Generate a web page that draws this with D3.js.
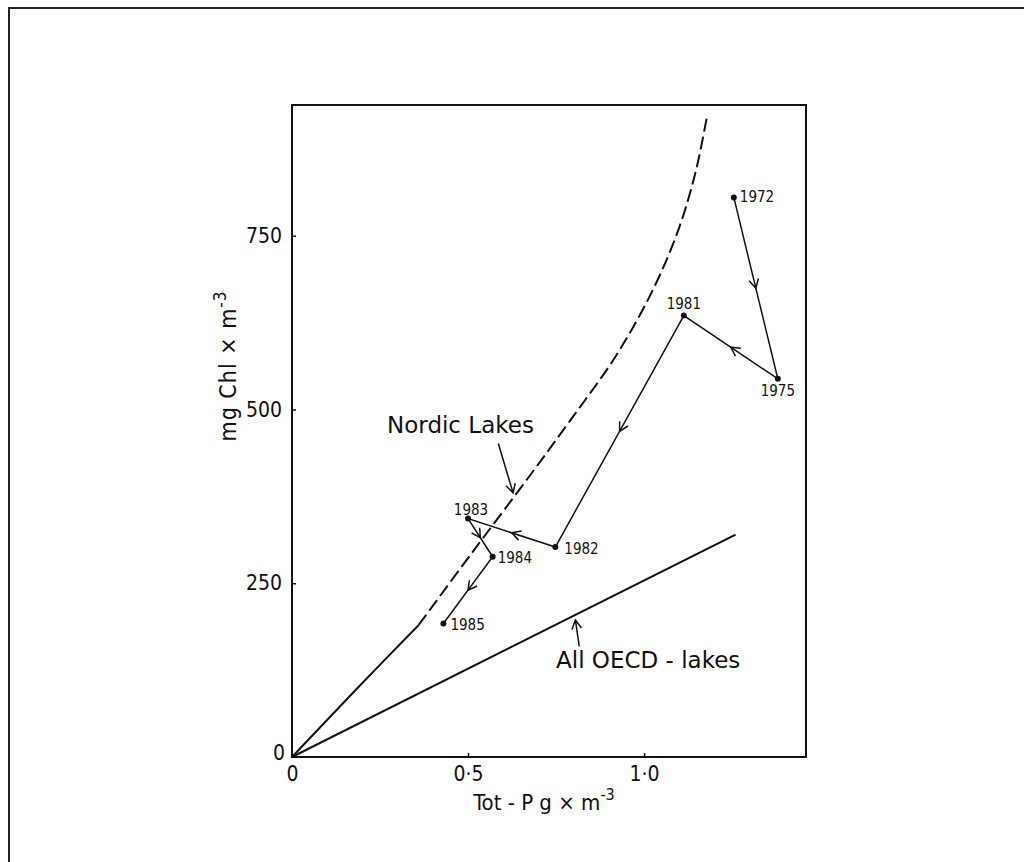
<!DOCTYPE html>
<html>
<head>
<meta charset="utf-8">
<script src="https://cdn.jsdelivr.net/npm/d3@7"></script>
<style>
  html, body { margin: 0; padding: 0; background: #fff; }
  svg { display: block; }
  .tick line { stroke: #111; stroke-width: 1.5; }
  .tick text { fill: #111; }
  .domain { display: none; }
</style>
</head>
<body>
<svg id="chart" width="1024" height="862"></svg>
<script>
// lake trajectory, tot-P (g/m3) vs chlorophyll (mg/m3)
const years  = ["1972", "1975", "1981", "1982", "1983", "1984", "1985"];
const totP   = [1.255, 1.38, 1.113, 0.748, 0.50, 0.57, 0.43];
const chl    = [805, 544, 635, 302, 343, 288, 192];

// Nordic lakes regression curve, solid part then dashed part
const nordicSolid  = [[0, 0], [0.18, 96], [0.36, 190]];
const nordicDashed = [[0.36, 190], [0.51, 293], [0.67, 401], [0.79, 484], [0.92, 577],
                      [1.025, 672], [1.10, 762], [1.148, 845], [1.18, 925]];
// all OECD lakes line
const oecdLine = [[0, 0], [1.26, 320]];

const xTicks = [0, 0.5, 1.0];
const xTickLabels = ["0", "0·5", "1·0"];
const yTicks = [0, 250, 500, 750];
const yTickLabels = ["0", "250", "500", "750"];

const svg = d3.select("#chart");
const ink = "#111";

const x = d3.scaleLinear().domain([0, 1.46]).range([292, 806]);
const y = d3.scaleLinear().domain([0, 938]).range([757, 105]);

// outer page frame
svg.append("path")
  .attr("d", "M9,862 V8 H1024")
  .attr("fill", "none").attr("stroke", "#222").attr("stroke-width", 2);

// plot box
svg.append("rect")
  .attr("x", x(0)).attr("y", y(938))
  .attr("width", x(1.46) - x(0)).attr("height", y(0) - y(938))
  .attr("fill", "none").attr("stroke", ink).attr("stroke-width", 2);

const tickFont = "'DejaVu Sans Condensed', 'Liberation Sans Narrow', sans-serif";
const xAxis = svg.append("g")
  .attr("transform", `translate(0,${y(0)})`)
  .call(d3.axisBottom(x).tickValues(xTicks).tickSize(-4).tickPadding(9)
    .tickFormat((d, i) => xTickLabels[i]));
xAxis.selectAll("text").style("font-family", tickFont).style("font-size", "21px");
xAxis.selectAll(".tick").filter(d => d === 0).select("line").remove();

const yAxis = svg.append("g")
  .attr("transform", `translate(${x(0)},0)`)
  .call(d3.axisLeft(y).tickValues(yTicks).tickSize(-4).tickPadding(10)
    .tickFormat((d, i) => yTickLabels[i]));
yAxis.selectAll("text").style("font-family", tickFont).style("font-size", "21px");
yAxis.selectAll(".tick").filter(d => d === 0)
  .select("text").attr("x", -7).attr("dy", "0.1em");
yAxis.selectAll(".tick").filter(d => d === 0).select("line").remove();

// axis titles
const titleFont = "'DejaVu Sans Condensed', 'Liberation Sans Narrow', sans-serif";
const xt = svg.append("text")
  .attr("x", 544).attr("y", 810)
  .attr("text-anchor", "middle")
  .style("font-family", titleFont).style("font-size", "22px").attr("fill", ink)
  .text("Tot - P g × m");
xt.append("tspan").attr("dy", -10).style("font-size", "16px").text("-3");

const yt = svg.append("text")
  .attr("transform", "translate(236,366) rotate(-90)")
  .attr("text-anchor", "middle")
  .style("font-family", titleFont).style("font-size", "23px")
  .style("letter-spacing", "1px").attr("fill", ink)
  .text("mg Chl × m");
yt.append("tspan").attr("dy", -10).style("font-size", "17px").text("-3");

const line = d3.line().x(d => x(d[0])).y(d => y(d[1]));

// Nordic lakes curve
svg.append("path")
  .attr("d", line.curve(d3.curveCatmullRom)(nordicSolid))
  .attr("fill", "none").attr("stroke", ink).attr("stroke-width", 2);
svg.append("path")
  .attr("d", line.curve(d3.curveCatmullRom)(nordicDashed))
  .attr("fill", "none").attr("stroke", ink).attr("stroke-width", 2)
  .attr("stroke-dasharray", "13,5");

// OECD line
svg.append("path")
  .attr("d", line.curve(d3.curveLinear)(oecdLine))
  .attr("fill", "none").attr("stroke", ink).attr("stroke-width", 2);

// open arrowhead with its tip at (px,py), pointing along angle a
function arrowHead(px, py, a, len = 10, spread = 0.5) {
  const p1 = [px - len * Math.cos(a - spread), py - len * Math.sin(a - spread)];
  const p2 = [px - len * Math.cos(a + spread), py - len * Math.sin(a + spread)];
  svg.append("path")
    .attr("d", `M${p1[0]},${p1[1]} L${px},${py} L${p2[0]},${p2[1]}`)
    .attr("fill", "none").attr("stroke", ink).attr("stroke-width", 1.5);
}

// trajectory
const pts = years.map((yr, i) => ({ yr, px: x(totP[i]), py: y(chl[i]) }));
svg.append("path")
  .attr("d", d3.line().x(d => d.px).y(d => d.py)(pts))
  .attr("fill", "none").attr("stroke", ink).attr("stroke-width", 1.5);
d3.pairs(pts).forEach(([a, b]) => {
  const ang = Math.atan2(b.py - a.py, b.px - a.px);
  arrowHead((a.px + b.px) / 2, (a.py + b.py) / 2, ang);
});
svg.selectAll("circle.yr").data(pts).join("circle")
  .attr("class", "yr")
  .attr("cx", d => d.px).attr("cy", d => d.py).attr("r", 3).attr("fill", ink);

// year label placement relative to the dot
const place = {
  "1972": [6, 5, "start"], "1975": [0, 17, "middle"], "1981": [0, -7, "middle"],
  "1982": [9, 7, "start"], "1983": [3, -4, "middle"], "1984": [5, 6, "start"],
  "1985": [7, 6, "start"]
};
svg.selectAll("text.yr").data(pts).join("text")
  .attr("class", "yr")
  .attr("x", d => d.px + place[d.yr][0]).attr("y", d => d.py + place[d.yr][1])
  .attr("text-anchor", d => place[d.yr][2])
  .style("font-family", "'Liberation Sans Narrow', 'DejaVu Sans Condensed', sans-serif")
  .style("font-size", "15px").attr("fill", ink)
  .text(d => d.yr);

// annotations
const annoFont = "'DejaVu Sans', sans-serif";
svg.append("text")
  .attr("x", x(0.27)).attr("y", y(473) + 5)
  .style("font-family", annoFont).style("font-size", "23px").attr("fill", ink)
  .text("Nordic Lakes");
svg.append("text")
  .attr("x", x(0.75)).attr("y", y(140) + 8)
  .style("font-family", annoFont).style("font-size", "23px").attr("fill", ink)
  .text("All OECD - lakes");

const pointers = [
  [[0.586, 451], [0.628, 380]],
  [[0.816, 159], [0.805, 197]]
];
pointers.forEach(([s, e]) => {
  svg.append("path")
    .attr("d", line.curve(d3.curveLinear)([s, e]))
    .attr("fill", "none").attr("stroke", ink).attr("stroke-width", 1.5);
  const ang = Math.atan2(y(e[1]) - y(s[1]), x(e[0]) - x(s[0]));
  arrowHead(x(e[0]), y(e[1]), ang);
});
</script>
</body>
</html>
